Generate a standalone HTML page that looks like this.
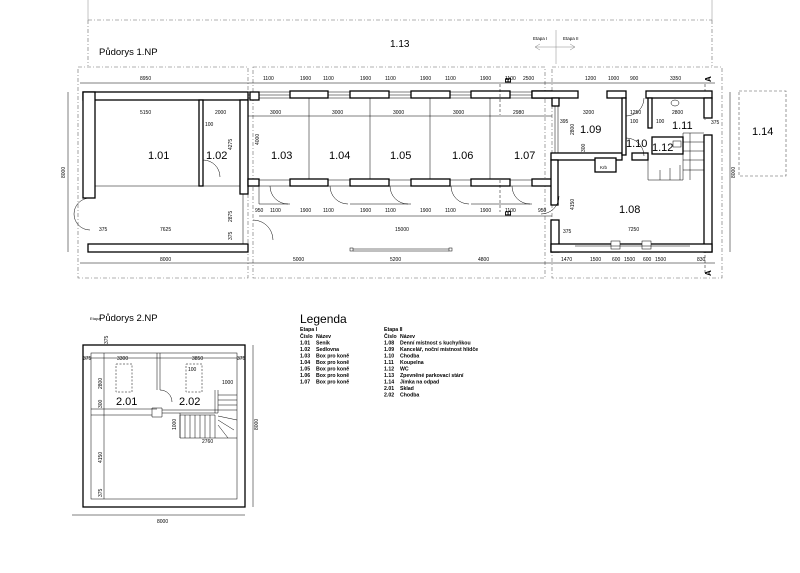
<!DOCTYPE html>
<html><head><meta charset="utf-8"><style>
html,body{margin:0;padding:0;background:#fff}
svg{display:block}
text{font-family:"Liberation Sans",sans-serif;fill:#000}
.d{font-size:5px}
.r{font-size:11px}
.w{fill:#fff;stroke:#000;stroke-width:1.3}
.t{stroke:#000;stroke-width:.5;fill:none}
.g{stroke:#888;stroke-width:.5;fill:none}
.ds{stroke:#666;stroke-width:.6;fill:none;stroke-dasharray:4 2 1 2}
.lg{font-size:5.2px;font-weight:bold}
</style></head><body>
<svg width="800" height="573" viewBox="0 0 800 573" xmlns="http://www.w3.org/2000/svg">
<line x1="88" y1="0" x2="88" y2="20" class="g"/>
<line x1="712" y1="0" x2="712" y2="20" class="g"/>
<line x1="88" y1="20" x2="712" y2="20" class="ds"/>
<line x1="88" y1="20" x2="88" y2="66" class="ds"/>
<line x1="712" y1="20" x2="712" y2="66" class="ds"/>
<text x="390" y="47" font-size="10">1.13</text>
<text x="99" y="55" font-size="9.5">Půdorys 1.NP</text>
<line x1="556" y1="30" x2="556" y2="64" class="g"/>
<path d="M535 47 L575 47 M540 44 L535 47 L540 50 M570 44 L575 47 L570 50" class="g"/>
<text x="533" y="40" font-size="4.5">Etapa I</text>
<text x="563" y="40" font-size="4.5">Etapa II</text>
<rect x="78" y="67" width="170" height="211" class="ds"/>
<rect x="253" y="67" width="292" height="211" class="ds"/>
<rect x="552" y="67" width="170" height="211" class="ds"/>
<line x1="80" y1="83" x2="715" y2="83" class="t"/>
<line x1="80" y1="263" x2="715" y2="263" class="t"/>
<line x1="68" y1="92" x2="68" y2="252" class="t"/>
<line x1="730" y1="92" x2="730" y2="252" class="t"/>
<g class="d">
<text x="140" y="80">8950</text>
<text x="263" y="80">1100</text><text x="300" y="80">1900</text><text x="323" y="80">1100</text><text x="360" y="80">1900</text><text x="385" y="80">1100</text><text x="420" y="80">1900</text><text x="445" y="80">1100</text><text x="480" y="80">1900</text><text x="505" y="80">1100</text>
<text x="523" y="80">2500</text><text x="585" y="80">1200</text><text x="608" y="80">1000</text><text x="630" y="80">900</text><text x="670" y="80">3350</text>
<text x="160" y="261">8000</text><text x="293" y="261">5000</text><text x="390" y="261">5200</text><text x="478" y="261">4800</text>
<text x="561" y="261">1470</text><text x="590" y="261">1500</text><text x="612" y="261">600</text><text x="624" y="261">1500</text><text x="643" y="261">600</text><text x="655" y="261">1500</text><text x="697" y="261">830</text>
<text x="140" y="114">5150</text><text x="215" y="114">2000</text><text x="205" y="126">100</text>
<text x="270" y="114">3000</text><text x="332" y="114">3000</text><text x="393" y="114">3000</text><text x="453" y="114">3000</text><text x="513" y="114">2980</text>
<text x="583" y="114">3200</text><text x="630" y="114">1250</text><text x="672" y="114">2800</text>
<text x="630" y="123">100</text><text x="656" y="123">100</text><text x="560" y="123">395</text><text x="711" y="124">375</text>
<text x="255" y="212">950</text><text x="270" y="212">1100</text><text x="300" y="212">1900</text><text x="323" y="212">1100</text><text x="360" y="212">1900</text><text x="385" y="212">1100</text><text x="420" y="212">1900</text><text x="445" y="212">1100</text><text x="480" y="212">1900</text><text x="505" y="212">1100</text><text x="538" y="212">950</text>
<text x="395" y="231">15000</text>
<text x="99" y="231">375</text><text x="160" y="231">7625</text><text x="628" y="231">7250</text>
<text x="563" y="233">375</text><text x="704" y="233">375</text>
</g>
<g class="d">
<text transform="translate(65,178) rotate(-90)">8000</text>
<text transform="translate(735,178) rotate(-90)">8000</text>
<text transform="translate(232,150) rotate(-90)">4275</text>
<text transform="translate(259,145) rotate(-90)">4000</text>
<text transform="translate(232,222) rotate(-90)">2875</text>
<text transform="translate(232,240) rotate(-90)">375</text>
<text transform="translate(574,135) rotate(-90)">2800</text>
<text transform="translate(585,152) rotate(-90)">300</text>
<text transform="translate(574,210) rotate(-90)">4150</text>
</g>
<rect x="83" y="92" width="165" height="8" class="w"/>
<rect x="83" y="92" width="12" height="106" class="w"/>
<rect x="199" y="100" width="4" height="86" class="w"/>
<rect x="240" y="100" width="8" height="94" class="w"/>
<rect x="88" y="244" width="160" height="8" class="w"/>
<line x1="95" y1="186" x2="240" y2="186" class="t"/>
<path d="M90 198 A16 16 0 0 0 74 214 M74 214 A16 16 0 0 0 90 230" class="t"/>
<path d="M203 160 A17 17 0 0 1 220 177" class="t"/>
<line x1="243" y1="194" x2="243" y2="244" class="t"/>
<text x="148" y="159" class="r">1.01</text>
<text x="206" y="159" class="r">1.02</text>
<rect x="248" y="92" width="304" height="6" class="t"/>
<rect x="248" y="180" width="304" height="6" class="t"/>
<line x1="248" y1="95" x2="552" y2="95" class="t"/>
<g class="w">
<rect x="250" y="92" width="9" height="8"/>
<rect x="290" y="91" width="38" height="7"/><rect x="350" y="91" width="39" height="7"/><rect x="411" y="91" width="39" height="7"/><rect x="471" y="91" width="39" height="7"/><rect x="532" y="91" width="20" height="7"/>
<rect x="248" y="179" width="11" height="7"/>
<rect x="290" y="179" width="38" height="7"/><rect x="350" y="179" width="39" height="7"/><rect x="411" y="179" width="39" height="7"/><rect x="471" y="179" width="39" height="7"/><rect x="532" y="179" width="20" height="7"/>
</g>
<g class="t">
<line x1="309" y1="98" x2="309" y2="179"/><line x1="370" y1="98" x2="370" y2="179"/><line x1="430" y1="98" x2="430" y2="179"/><line x1="490" y1="98" x2="490" y2="179"/>
<line x1="248" y1="116" x2="552" y2="116"/>
<path d="M270 186 A18 18 0 0 0 288 204 M330 186 A18 18 0 0 0 348 204 M390 186 A18 18 0 0 0 408 204 M451 186 A18 18 0 0 0 469 204 M512 186 A18 18 0 0 0 530 204"/>
<path d="M259 186 V204 H290 M350 204 H411 M471 204 H532 M259 216 H552"/>
<path d="M253 220 A20 20 0 0 1 273 240"/>
<rect x="350" y="248" width="3" height="3"/><rect x="449" y="248" width="3" height="3"/>
<line x1="353" y1="249" x2="449" y2="249"/><line x1="353" y1="251" x2="449" y2="251"/>
<line x1="500" y1="84" x2="500" y2="115" stroke-dasharray="3 2"/>
<line x1="500" y1="180" x2="500" y2="212" stroke-dasharray="3 2"/>
<line x1="705" y1="84" x2="705" y2="120" stroke-dasharray="3 2"/>
<line x1="705" y1="240" x2="705" y2="275" stroke-dasharray="3 2"/>
</g>
<text x="271" y="159" class="r">1.03</text><text x="329" y="159" class="r">1.04</text><text x="390" y="159" class="r">1.05</text><text x="452" y="159" class="r">1.06</text><text x="514" y="159" class="r">1.07</text>
<text transform="translate(511,83) rotate(-90)" font-size="8" font-weight="bold">B</text>
<text transform="translate(511,216) rotate(-90)" font-size="8" font-weight="bold">B</text>
<text transform="translate(711,82) rotate(-90)" font-size="8" font-weight="bold">A</text>
<text transform="translate(711,276) rotate(-90)" font-size="8" font-weight="bold">A</text>
<g class="w">
<rect x="532" y="91" width="46" height="7"/>
<rect x="552" y="98" width="7" height="8"/>
<rect x="607" y="91" width="19" height="7"/>
<rect x="646" y="91" width="66" height="7"/>
<rect x="704" y="98" width="8" height="20"/>
<rect x="704" y="135" width="8" height="117"/>
<rect x="551" y="153" width="71" height="7"/>
<rect x="632" y="153" width="16" height="7"/>
<rect x="595" y="158" width="21" height="14"/>
<rect x="622" y="98" width="4" height="57"/>
<rect x="648" y="98" width="4" height="30"/>
<rect x="551" y="160" width="7" height="45"/>
<rect x="551" y="220" width="8" height="32"/>
<rect x="551" y="244" width="161" height="8"/>
<rect x="652" y="137" width="31" height="17"/>
</g>
<g class="t">
<line x1="555" y1="106" x2="555" y2="153"/><line x1="558" y1="106" x2="558" y2="153"/>
<rect x="611" y="241" width="9" height="8" fill="#fff"/><rect x="642" y="241" width="9" height="8" fill="#fff"/>
<line x1="575" y1="246" x2="690" y2="246"/>
<path d="M626 138 A18 18 0 0 1 644 156 M626 98 V116 A18 18 0 0 0 644 98"/>
<path d="M559 196 A18 18 0 0 1 541 214"/>
<path d="M683 133 H704 M683 133 V180 H648 V160 M660 180 V170 M670 180 V168 M680 180 V165 M690 133 V180 M683 142 H704 M683 151 H704 M683 160 H704 M683 170 H704"/>
<ellipse cx="675" cy="103" rx="4" ry="3"/>
<rect x="673" y="141" width="8" height="6"/>
</g>
<text x="600" y="169" font-size="4.5">Krb</text>
<text x="580" y="133" class="r">1.09</text>
<text x="626" y="147" class="r">1.10</text>
<text x="672" y="129" class="r">1.11</text>
<text x="652" y="151" class="r">1.12</text>
<text x="619" y="213" class="r">1.08</text>
<rect x="739" y="91" width="47" height="85" fill="none" stroke="#555" stroke-width=".6" stroke-dasharray="3 2"/>
<text x="752" y="135" class="r">1.14</text>
<text x="90" y="320" font-size="4">Etapa</text>
<text x="99" y="321" font-size="9.5">Půdorys 2.NP</text>
<rect x="83" y="345" width="162" height="162" class="w"/>
<rect x="91" y="353" width="146" height="146" class="t"/>
<path d="M91 409 H157 M157 353 V390 M160 353 V390 M91 415 H152 M152 408 H162 V417 H152 Z M162 410 H218 M162 413 H218" class="t" fill="none"/>
<path d="M160 390 A12 12 0 0 1 172 402" class="t"/>
<g class="t" stroke-dasharray="2 1.5">
<rect x="116" y="364" width="16" height="28"/><rect x="186" y="364" width="16" height="28"/>
</g>
<g class="t">
<path d="M215 390 V413 M218 390 V413 M180 415 H215 V438 H180 Z M180 413 V438"/>
<path d="M185 415 V438 M190 415 V438 M195 415 V438 M200 415 V438 M205 415 V438 M210 415 V438 M218 395 H237 M218 400 H237 M218 405 H237 M218 410 H237 M215 438 L237 438 M218 416 L237 420 M218 420 L234 430 M218 425 L228 438"/>
<line x1="253" y1="345" x2="253" y2="507"/>
<line x1="72" y1="515" x2="245" y2="515"/>
<line x1="83" y1="358" x2="245" y2="358"/>
<line x1="104" y1="353" x2="104" y2="499"/>
</g>
<g class="d">
<text x="117" y="360">3300</text><text x="192" y="360">3850</text><text x="83" y="360">375</text><text x="237" y="360">375</text>
<text x="188" y="371">100</text><text x="222" y="384">1000</text><text x="202" y="443">2760</text>
<text x="157" y="523">8000</text>
<text transform="translate(102,389) rotate(-90)">2800</text>
<text transform="translate(102,408) rotate(-90)">300</text>
<text transform="translate(102,463) rotate(-90)">4150</text>
<text transform="translate(102,497) rotate(-90)">375</text>
<text transform="translate(176,430) rotate(-90)">1000</text>
<text transform="translate(258,430) rotate(-90)">8000</text>
<text transform="translate(108,344) rotate(-90)">375</text>
</g>
<text x="116" y="405" class="r">2.01</text>
<text x="179" y="405" class="r">2.02</text>
<text x="300" y="323" font-size="12">Legenda</text>
<g class="lg">
<text x="300" y="331">Etapa I</text>
<text x="300" y="338">Číslo</text><text x="316" y="338">Název</text>
<text x="300" y="344.5">1.01</text><text x="316" y="344.5">Seník</text>
<text x="300" y="351">1.02</text><text x="316" y="351">Sedlovna</text>
<text x="300" y="357.5">1.03</text><text x="316" y="357.5">Box pro koně</text>
<text x="300" y="364">1.04</text><text x="316" y="364">Box pro koně</text>
<text x="300" y="370.5">1.05</text><text x="316" y="370.5">Box pro koně</text>
<text x="300" y="377">1.06</text><text x="316" y="377">Box pro koně</text>
<text x="300" y="383.5">1.07</text><text x="316" y="383.5">Box pro koně</text>
<text x="384" y="331">Etapa II</text>
<text x="384" y="338">Číslo</text><text x="400" y="338">Název</text>
<text x="384" y="344.5">1.08</text><text x="400" y="344.5">Denní místnost s kuchyňkou</text>
<text x="384" y="351">1.09</text><text x="400" y="351">Kancelář, noční místnost hlídče</text>
<text x="384" y="357.5">1.10</text><text x="400" y="357.5">Chodba</text>
<text x="384" y="364">1.11</text><text x="400" y="364">Koupelna</text>
<text x="384" y="370.5">1.12</text><text x="400" y="370.5">WC</text>
<text x="384" y="377">1.13</text><text x="400" y="377">Zpevněné parkovací stání</text>
<text x="384" y="383.5">1.14</text><text x="400" y="383.5">Jímka na odpad</text>
<text x="384" y="390">2.01</text><text x="400" y="390">Sklad</text>
<text x="384" y="396.5">2.02</text><text x="400" y="396.5">Chodba</text>
</g>
</svg>
</body></html>
